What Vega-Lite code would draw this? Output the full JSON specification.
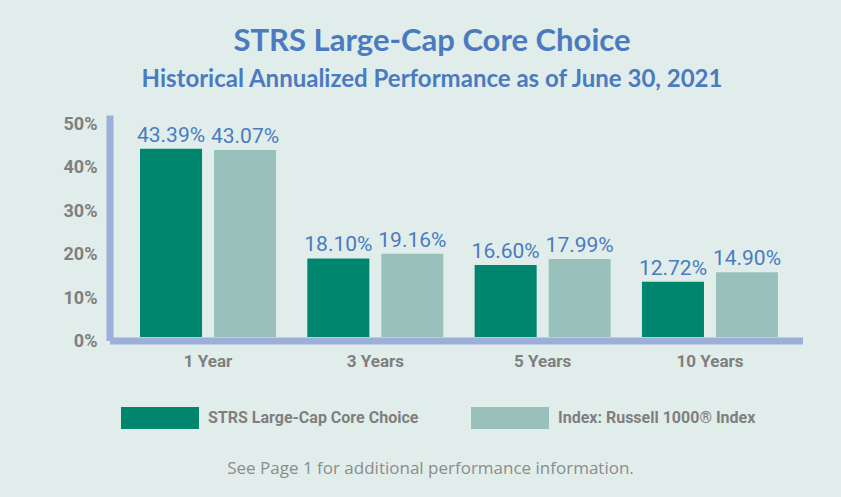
{
  "$schema": "https://vega.github.io/schema/vega-lite/v6.json",
  "width": 686,
  "height": 218.5,
  "autosize": {"type": "none"},
  "padding": {"left": 113, "top": 118.5, "right": 42, "bottom": 160},
  "background": "#e1edea",
  "config": {"view": {"stroke": null}},
  "title": {
    "text": "STRS Large-Cap Core Choice",
    "subtitle": "Historical Annualized Performance as of June 30, 2021",
    "anchor": "middle",
    "dx": -24,
    "font": "Lato",
    "fontSize": 31,
    "fontWeight": "bold",
    "color": "#4a7bc0",
    "subtitleFont": "Lato",
    "subtitleFontSize": 24,
    "subtitleFontWeight": "bold",
    "subtitleColor": "#4a7bc0",
    "subtitlePadding": 10,
    "offset": 23
  },
  "data": {
    "values": [
      {"period": "1 Year", "series": "STRS Large-Cap Core Choice", "value": 43.39, "label": "43.39%"},
      {"period": "1 Year", "series": "Index: Russell 1000® Index", "value": 43.07, "label": "43.07%"},
      {"period": "3 Years", "series": "STRS Large-Cap Core Choice", "value": 18.10, "label": "18.10%"},
      {"period": "3 Years", "series": "Index: Russell 1000® Index", "value": 19.16, "label": "19.16%"},
      {"period": "5 Years", "series": "STRS Large-Cap Core Choice", "value": 16.60, "label": "16.60%"},
      {"period": "5 Years", "series": "Index: Russell 1000® Index", "value": 17.99, "label": "17.99%"},
      {"period": "10 Years", "series": "STRS Large-Cap Core Choice", "value": 12.72, "label": "12.72%"},
      {"period": "10 Years", "series": "Index: Russell 1000® Index", "value": 14.90, "label": "14.90%"}
    ]
  },
  "encoding": {
    "x": {
      "field": "period",
      "type": "nominal",
      "sort": ["1 Year", "3 Years", "5 Years", "10 Years"],
      "scale": {"paddingInner": 0.187, "paddingOuter": 0.1435, "align": 0.5625},
      "axis": {
        "title": "See Page 1 for additional performance information.",
        "labelAngle": 0,
        "ticks": false,
        "tickSize": 0,
        "domainColor": "#9bafd8",
        "domainWidth": 7,
        "domainCap": "square",
        "offset": 3.5,
        "labelFont": "Roboto",
        "labelFontSize": 17,
        "labelFontWeight": "bold",
        "labelColor": "#7f7f7f",
        "labelPadding": 13,
        "titleFont": "Open Sans",
        "titleFontSize": 17,
        "titleFontWeight": "normal",
        "titleColor": "#8c8c8c",
        "titleX": 317,
        "titleY": 127.5,
        "titleBaseline": "middle",
        "titleAlign": "center"
      }
    },
    "xOffset": {
      "field": "series",
      "sort": ["STRS Large-Cap Core Choice", "Index: Russell 1000® Index"],
      "scale": {"paddingInner": 0.162, "paddingOuter": 0}
    },
    "y": {
      "field": "value",
      "type": "quantitative",
      "scale": {"domain": [0, 50.35], "nice": false, "zero": true},
      "axis": {
        "values": [0, 10, 20, 30, 40, 50],
        "labelExpr": "datum.value + '%'",
        "title": null,
        "grid": false,
        "ticks": false,
        "tickSize": 0,
        "domainColor": "#9bafd8",
        "domainWidth": 7,
        "domainCap": "square",
        "offset": 3.5,
        "labelFont": "Roboto",
        "labelFontSize": 18,
        "labelFontWeight": "bold",
        "labelColor": "#7f7f7f",
        "labelPadding": 12.5,
        "labelOffset": 4.5
      }
    }
  },
  "layer": [
    {
      "mark": {"type": "bar"},
      "encoding": {
        "color": {
          "field": "series",
          "type": "nominal",
          "sort": ["STRS Large-Cap Core Choice", "Index: Russell 1000® Index"],
          "scale": {"range": ["#00856f", "#99c1bb"]},
          "legend": {
            "orient": "none",
            "legendX": 8,
            "legendY": 260,
            "direction": "horizontal",
            "title": null,
            "symbolType": "M-1,-0.2821H1V0.2821H-1Z",
            "symbolSize": 6084,
            "symbolStrokeWidth": 0,
            "symbolOpacity": 1,
            "labelFont": "Roboto",
            "labelFontSize": 16,
            "labelFontWeight": "bold",
            "labelColor": "#7f7f7f",
            "labelOffset": 9,
            "labelLimit": 400,
            "columnPadding": 52
          }
        }
      }
    },
    {
      "mark": {
        "type": "text",
        "font": "Roboto",
        "fontSize": 21,
        "color": "#4a7bc0",
        "baseline": "alphabetic",
        "align": "center",
        "dy": -7
      },
      "encoding": {"text": {"field": "label"}}
    }
  ]
}
